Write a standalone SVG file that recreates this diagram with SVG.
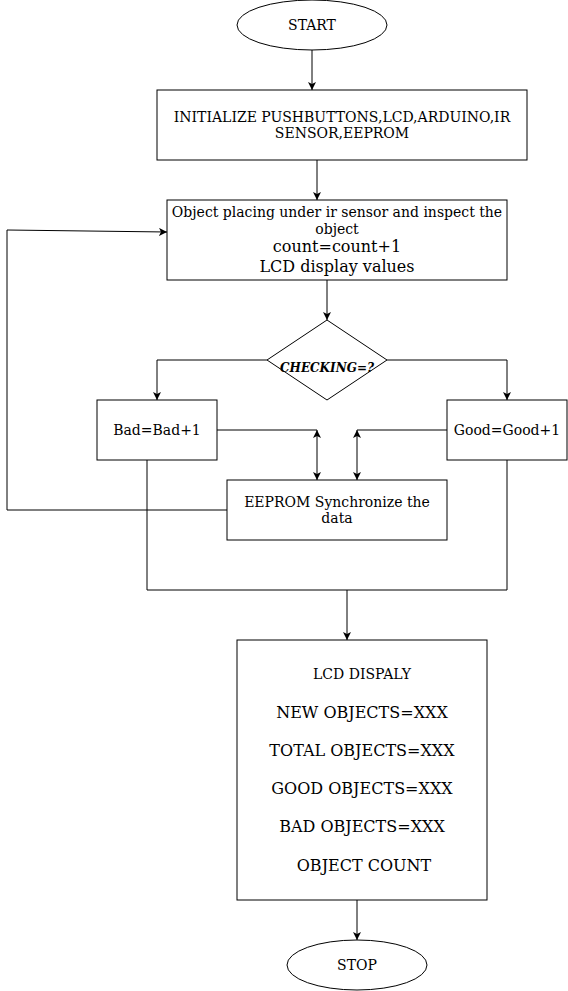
<svg xmlns="http://www.w3.org/2000/svg" width="568" height="991" viewBox="0 0 568 991">
<style>
.s{fill:#fff;stroke:#000;stroke-width:1}
.c{fill:none;stroke:#000;stroke-width:1}
text{font-family:"DejaVu Serif",serif;fill:#000;text-anchor:middle}
.t13{font-size:14px}
.t16{font-size:16px}
</style>
<defs>
<marker id="a" markerWidth="10" markerHeight="10" refX="8" refY="4" orient="auto" markerUnits="userSpaceOnUse">
<path d="M0,0 L8,4 L0,8 L2,4 Z" fill="#000"/>
</marker>
<marker id="b" markerWidth="10" markerHeight="10" refX="0" refY="4" orient="auto" markerUnits="userSpaceOnUse">
<path d="M8,0 L0,4 L8,8 L6,4 Z" fill="#000"/>
</marker>
</defs>
<rect width="568" height="991" fill="#fff"/>
<g id="connectors">
<path class="c" d="M312,50 V90" marker-end="url(#a)"/>
<path class="c" d="M317,160 V200" marker-end="url(#a)"/>
<path class="c" d="M327,280 V320" marker-end="url(#a)"/>
<path class="c" d="M267,360 H157 V400" marker-end="url(#a)"/>
<path class="c" d="M387,360 H507 V400" marker-end="url(#a)"/>
<path class="c" d="M217,430 H317"/>
<path class="c" d="M447,430 H357"/>
<path class="c" d="M317,430 V480" marker-start="url(#b)" marker-end="url(#a)"/>
<path class="c" d="M357,430 V480" marker-start="url(#b)" marker-end="url(#a)"/>
<path class="c" d="M227,510 H7 V230 L167,232" marker-end="url(#a)"/>
<path class="c" d="M147,460 V590 H507 V460"/>
<path class="c" d="M347,590 V640" marker-end="url(#a)"/>
<path class="c" d="M357,900 V940" marker-end="url(#a)"/>
</g>
<g id="start">
<ellipse class="s" cx="312" cy="25" rx="75" ry="25"/>
<text class="t13" x="312" y="30">START</text>
</g>
<g id="init">
<rect class="s" x="157" y="90" width="370" height="70"/>
<text class="t13" x="342" y="122">INITIALIZE PUSHBUTTONS,LCD,ARDUINO,IR</text>
<text class="t13" x="342" y="138">SENSOR,EEPROM</text>
</g>
<g id="inspect">
<rect class="s" x="167" y="200" width="340" height="80"/>
<text class="t13" x="337" y="217">Object placing under ir sensor and inspect the</text>
<text class="t13" x="337" y="234">object</text>
<text class="t16" x="337" y="252">count=count+1</text>
<text class="t16" x="337" y="272">LCD display values</text>
</g>
<g id="checking">
<path class="s" d="M327,320 L387,360 L327,400 L267,360 Z"/>
<text x="327" y="372" font-size="12" font-weight="bold" font-style="italic">CHECKING=?</text>
</g>
<g id="bad">
<rect class="s" x="97" y="400" width="120" height="60"/>
<text class="t13" x="157" y="435">Bad=Bad+1</text>
</g>
<g id="good">
<rect class="s" x="447" y="400" width="120" height="60"/>
<text class="t13" x="507" y="435">Good=Good+1</text>
</g>
<g id="eeprom">
<rect class="s" x="227" y="480" width="220" height="60"/>
<text class="t13" x="337" y="507">EEPROM Synchronize the</text>
<text class="t13" x="337" y="523">data</text>
</g>
<g id="lcd">
<rect class="s" x="237" y="640" width="250" height="260"/>
<text class="t13" x="362" y="679">LCD DISPALY</text>
<text class="t16" x="362" y="718">NEW OBJECTS=XXX</text>
<text class="t16" x="362" y="756">TOTAL OBJECTS=XXX</text>
<text class="t16" x="362" y="794">GOOD OBJECTS=XXX</text>
<text class="t16" x="362" y="832">BAD OBJECTS=XXX</text>
<text class="t16" x="364" y="871">OBJECT COUNT</text>
</g>
<g id="stop">
<ellipse class="s" cx="357" cy="965" rx="70" ry="25"/>
<text class="t13" x="357" y="970">STOP</text>
</g>
</svg>
